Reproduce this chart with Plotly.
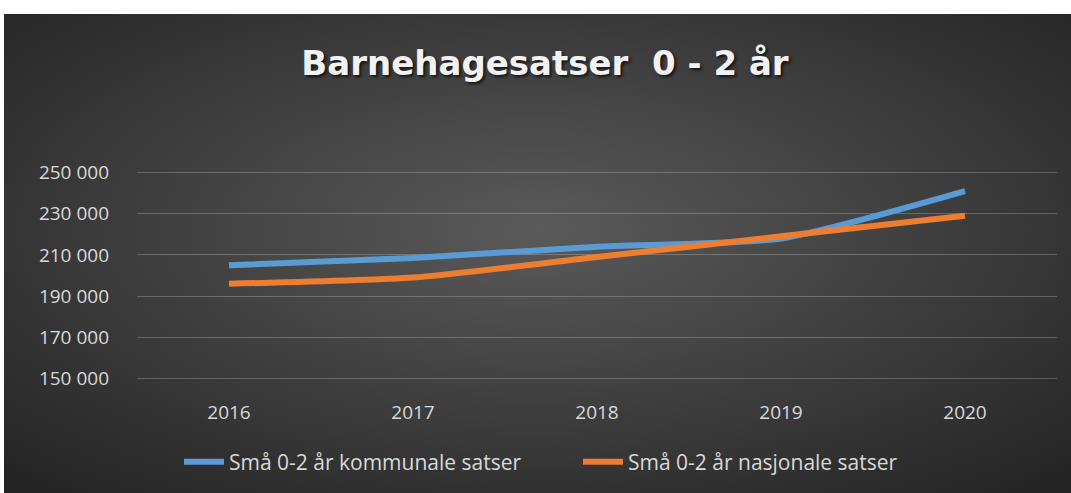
import base64
import plotly.graph_objects as go

years = ["2016", "2017", "2018", "2019", "2020"]
kommunale = [205000, 208500, 214000, 218000, 241000]
nasjonale = [196000, 199000, 209000, 219000, 229000]
series_names = ["Små 0-2 år kommunale satser", "Små 0-2 år nasjonale satser"]
title_text = "Barnehagesatser  0 - 2 år"

W, H = 1071, 493
Y_MIN, Y_MAX = 148800, 251200
L, R, T, B = 137, 14, 170, 112
pw, ph = W - L - R, H - T - B

def px_to_paper_x(px):
    return (px - L) / pw

def px_to_paper_y(py):
    return (H - B - py) / ph

svg = ('<svg xmlns="http://www.w3.org/2000/svg" width="1067" height="479" viewBox="0 0 1067 479" preserveAspectRatio="none">'
       '<defs><radialGradient id="g" cx="50%" cy="45%" r="72%">'
       '<stop offset="0" stop-color="#5a5a5a"/><stop offset="1" stop-color="#242424"/>'
       '</radialGradient></defs><rect x="0" y="0" width="1067" height="479" fill="url(#g)"/></svg>')
src = "data:image/svg+xml;base64," + base64.b64encode(svg.encode()).decode()

fig = go.Figure()
fig.add_trace(go.Scatter(x=years, y=kommunale, name=series_names[0], mode="lines",
                         line=dict(color="#5B9BD5", width=6, shape="spline", smoothing=0.6)))
fig.add_trace(go.Scatter(x=years, y=nasjonale, name=series_names[1], mode="lines",
                         line=dict(color="#ED7D31", width=6, shape="spline", smoothing=0.6)))

fig.add_layout_image(dict(source=src, xref="paper", yref="paper",
                          x=px_to_paper_x(4), y=px_to_paper_y(14),
                          sizex=px_to_paper_x(W) - px_to_paper_x(4),
                          sizey=px_to_paper_y(14) - px_to_paper_y(H),
                          xanchor="left", yanchor="top", sizing="stretch", layer="below"))

fig.update_layout(
    width=W, height=H,
    margin=dict(l=L, r=R, t=T, b=B, autoexpand=False),
    paper_bgcolor="white", plot_bgcolor="rgba(0,0,0,0)",
    separators=", ",
    font=dict(family="Open Sans", color="#d9d9d9", size=20),
    title=dict(text=title_text, x=545 / W, xanchor="center", y=1 - 63 / H, yanchor="middle",
               yref="container",
               font=dict(family="DejaVu Sans", size=34, color="#f2f2f2", weight="bold",
                         shadow="2px 2px 3px rgba(0,0,0,0.7)")),
    showlegend=True,
    legend=dict(orientation="h", x=px_to_paper_x(578), xanchor="center",
                y=px_to_paper_y(462), yanchor="middle",
                font=dict(size=21, color="#d9d9d9"), bgcolor="rgba(0,0,0,0)",
                itemwidth=40, tracegroupgap=0, entrywidth=344, entrywidthmode="pixels"),
    xaxis=dict(type="category", range=[-0.5, 4.5], showgrid=False, zeroline=False, showline=False,
               ticks="", ticklabelstandoff=18, tickfont=dict(size=19, color="#d9d9d9")),
    yaxis=dict(range=[Y_MIN, Y_MAX], dtick=20000, tick0=150000, tickformat=",d",
               showgrid=True, gridcolor="rgba(255,255,255,0.22)", gridwidth=1,
               zeroline=False, showline=False, ticks="", ticklabelstandoff=27,
               tickfont=dict(size=19, color="#d9d9d9")),
)

fig.write_html("out.html", post_script="document.body.style.margin='0';",
               config={"displayModeBar": False})
